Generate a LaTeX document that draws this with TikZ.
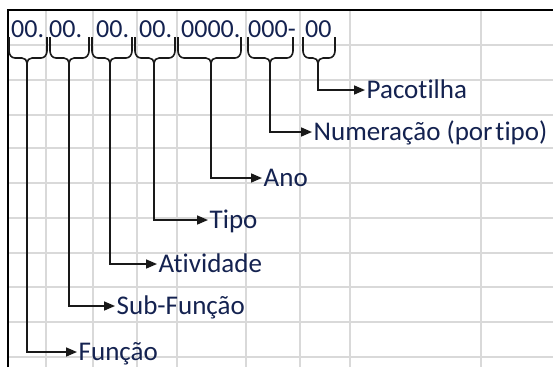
\documentclass[tikz,border=0pt]{standalone}
\usepackage{fontspec}
\setmainfont[Ligatures=NoCommon]{Carlito}
\usetikzlibrary{arrows.meta}
\definecolor{txt}{RGB}{20,34,80}
\definecolor{gridc}{RGB}{217,217,217}
\definecolor{ink}{RGB}{25,25,25}
\begin{document}
\begin{tikzpicture}[x=1pt,y=-1pt,
  gridline/.style={draw=gridc,line width=1.4pt},
  frame/.style={draw=black,line width=2pt},
  bracepath/.style={draw=ink,line width=1.6pt,line join=round},
  stem/.style={draw=ink,line width=1.6pt,-{Triangle[length=11pt,width=9pt]}},
  lab/.style={font=\fontsize{27}{27}\selectfont,text=txt,inner xsep=1.5pt,inner ysep=0pt,text height=17pt,text depth=0pt,anchor=west},
  num/.style={font=\fontsize{26}{26}\selectfont,text=txt,inner sep=0pt,anchor=base west}]
\useasboundingbox (0,0) rectangle (553,367);
\fill[white] (0,0) rectangle (553,367);
% grid
\foreach \gx in {46,93,137,177,246,300,350,481}
  \draw[gridline] (\gx,10) -- (\gx,367);
\foreach \gy in {45,80,115,148,183,218,253,287,322,357}
  \draw[gridline] (8,\gy) -- (553,\gy);
% frame
\draw[frame] (7.5,367) -- (7.5,9.5) -- (553,9.5);
% top numbers
\node[num] (n1) at (11,37) {00.};
\node[num] (n2) at (49,37) {00.};
\node[num] (n3) at (96,37) {00.};
\node[num] (n4) at (139,37) {00.};
\node[num] (n5) at (181,37) {0000.};
\node[num] (n6) at (248,37) {000-};
\node[num] (n7) at (305,37) {00};
% braces: left x, center x, right x
\foreach \a/\c/\b/\nm in {9/27/47/c1,50/69/89/c2,92/110/132/c3,135/154/175/c4,178/211/241/c5,248/270/293/c6,303/318/335/c7}{
  \draw[bracepath] (\a,37) -- (\a,51) to[out=-90,in=180] (\a+6,58) -- (\c-5,58) to[out=0,in=90] (\c,63);
  \draw[bracepath] (\b,37) -- (\b,51) to[out=-90,in=0] (\b-6,58) -- (\c+5,58) to[out=180,in=90] (\c,63);
  \coordinate (\nm) at (\c,62);
}
% labels
\node[lab] (l7) at (365,90) {Pacotilha};
\node[lab] (l6) at (312,132) {Numeração (por\hspace{-0.12em} tipo)};
\node[lab] (l5) at (262,178) {Ano};
\node[lab] (l4) at (208,220) {Tipo};
\node[lab] (l3) at (157,264) {Atividade};
\node[lab] (l2) at (115,306) {Sub-Função};
\node[lab] (l1) at (77,352) {Função};
% connectors
\draw[stem] (c1) |- (l1.west);
\draw[stem] (c2) |- (l2.west);
\draw[stem] (c3) |- (l3.west);
\draw[stem] (c4) |- (l4.west);
\draw[stem] (c5) |- (l5.west);
\draw[stem] (c6) |- (l6.west);
\draw[stem] (c7) |- (l7.west);
\end{tikzpicture}
\end{document}
